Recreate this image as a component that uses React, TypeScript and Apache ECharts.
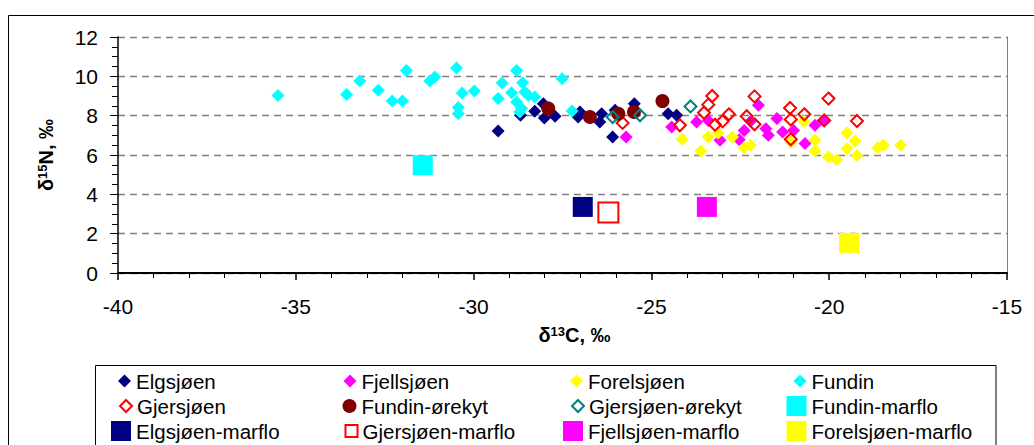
import React, { useEffect, useRef } from "react";
import * as echarts from "echarts";

// ---- data (δ13C, δ15N) ----
const elgsjoen: number[][] = [
  [-29.31, 7.22], [-28.68, 8.02], [-28.28, 8.22], [-28.04, 8.61], [-28.01, 7.88],
  [-27.71, 7.97], [-27.06, 7.93], [-27.01, 8.19], [-26.4, 8.1], [-26.45, 7.68],
  [-26.09, 6.92], [-26.02, 8.27], [-25.48, 8.61], [-24.53, 8.1], [-24.29, 8.02],
];
const fjellsjoen: number[][] = [
  [-25.71, 6.91], [-24.43, 7.42], [-23.73, 7.68], [-23.4, 7.75], [-23.07, 6.75],
  [-22.53, 6.78], [-22.39, 7.25], [-22.21, 7.71], [-21.99, 8.53], [-21.78, 7.34],
  [-21.71, 7.0], [-21.47, 7.85], [-21.31, 7.17], [-21.0, 7.25], [-20.68, 6.58],
  [-20.4, 7.51], [-20.16, 7.76],
];
const forelsjoen: number[][] = [
  [-24.13, 6.8], [-23.61, 6.2], [-23.4, 6.91], [-23.12, 7.12], [-22.72, 6.91],
  [-22.39, 6.37], [-22.21, 6.49], [-21.08, 6.66], [-20.71, 7.71], [-20.4, 6.75],
  [-20.4, 6.2], [-20.02, 5.9], [-19.79, 5.76], [-19.5, 7.12], [-19.27, 6.71],
  [-19.5, 6.32], [-19.22, 5.98], [-18.63, 6.37], [-18.48, 6.49], [-17.99, 6.49],
];
const fundin: number[][] = [
  [-35.5, 9.03], [-33.57, 9.07], [-33.2, 9.76], [-32.68, 9.29], [-32.29, 8.74],
  [-32.0, 8.74], [-31.89, 10.3], [-31.23, 9.76], [-31.09, 9.97], [-30.48, 10.42],
  [-30.43, 8.41], [-30.43, 8.1], [-30.32, 9.15], [-29.98, 9.25], [-29.31, 8.87],
  [-29.2, 9.66], [-28.93, 9.17], [-28.79, 10.3], [-28.62, 9.68], [-28.79, 8.69],
  [-28.56, 9.2], [-28.65, 8.36], [-28.46, 9.03], [-28.28, 8.95], [-28.7, 8.19],
  [-27.9, 8.44], [-27.51, 9.88], [-27.23, 8.24],
];
const gjersjoen: number[][] = [
  [-25.81, 7.63], [-24.2, 7.51], [-23.29, 9.0], [-23.4, 8.56], [-23.52, 8.15],
  [-23.21, 7.54], [-23.0, 7.71], [-22.82, 8.07], [-22.32, 7.97], [-22.1, 8.98],
  [-22.1, 7.56], [-21.1, 8.39], [-21.08, 7.81], [-21.08, 6.8], [-20.7, 8.07],
  [-20.14, 7.76], [-20.02, 8.87], [-19.22, 7.73],
];
const fundinOrekyt: number[][] = [
  [-27.9, 8.36], [-26.73, 7.93], [-25.93, 8.1], [-25.49, 8.19], [-24.69, 8.74],
];
const gjersjoenOrekyt: number[][] = [[-26.09, 7.93], [-25.32, 8.02], [-23.9, 8.47]];
const fundinMarflo: number[][] = [[-31.43, 5.48]];
const elgsjoenMarflo: number[][] = [[-26.93, 3.36]];
const gjersjoenMarflo: number[][] = [[-26.21, 3.07]];
const fjellsjoenMarflo: number[][] = [[-23.44, 3.36]];
const forelsjoenMarflo: number[][] = [[-19.44, 1.53]];

const xTicks = { min: -40, max: -15, interval: 5 };
const yTicks = { min: 0, max: 12, interval: 2 };

const FONT = "'Liberation Sans', Arial, sans-serif";

type Spec = {
  name: string;
  data: number[][];
  symbol: string;
  size: number;
  legendSize: number;
  fill: string;
  stroke?: string;
};

const specs: Spec[] = [
  { name: "Elgsjøen", data: elgsjoen, symbol: "diamond", size: 13, legendSize: 13, fill: "#000080" },
  { name: "Fjellsjøen", data: fjellsjoen, symbol: "diamond", size: 13, legendSize: 13, fill: "#FF00FF" },
  { name: "Forelsjøen", data: forelsjoen, symbol: "diamond", size: 13, legendSize: 13, fill: "#FFFF00" },
  { name: "Fundin", data: fundin, symbol: "diamond", size: 13, legendSize: 13, fill: "#00FFFF" },
  { name: "Gjersjøen", data: gjersjoen, symbol: "diamond", size: 12, legendSize: 12, fill: "rgba(0,0,0,0)", stroke: "#FF0000" },
  { name: "Fundin-ørekyt", data: fundinOrekyt, symbol: "circle", size: 14, legendSize: 14, fill: "#800000" },
  { name: "Gjersjøen-ørekyt", data: gjersjoenOrekyt, symbol: "diamond", size: 12, legendSize: 12, fill: "rgba(0,0,0,0)", stroke: "#008080" },
  { name: "Fundin-marflo", data: fundinMarflo, symbol: "rect", size: 20, legendSize: 20, fill: "#00FFFF" },
  { name: "Elgsjøen-marflo", data: elgsjoenMarflo, symbol: "rect", size: 20, legendSize: 20, fill: "#000080" },
  { name: "Gjersjøen-marflo", data: gjersjoenMarflo, symbol: "rect", size: 20, legendSize: 12, fill: "rgba(0,0,0,0)", stroke: "#FF0000" },
  { name: "Fjellsjøen-marflo", data: fjellsjoenMarflo, symbol: "rect", size: 20, legendSize: 20, fill: "#FF00FF" },
  { name: "Forelsjøen-marflo", data: forelsjoenMarflo, symbol: "rect", size: 20, legendSize: 20, fill: "#FFFF00" },
];

const legendTextX = [136, 361.5, 588, 811.5];
const legendRowY = [381, 406, 431];

export default function App() {
  const ref = useRef<HTMLDivElement>(null);
  useEffect(() => {
    if (!ref.current) return;
    const chart = echarts.init(ref.current, undefined, { renderer: "svg" });

    const series = specs.map((s) => ({
      type: "scatter",
      name: s.name,
      data: s.data,
      symbol: s.symbol,
      symbolSize: s.size,
      xAxisIndex: 0,
      yAxisIndex: 0,
      itemStyle: s.stroke
        ? { color: s.fill, borderColor: s.stroke, borderWidth: 2, opacity: 1 }
        : { color: s.fill, opacity: 1 },
      emphasis: { disabled: true },
    }));

    const legends = specs.map((s, i) => {
      const col = i % 4;
      const row = Math.floor(i / 4);
      const w = s.legendSize;
      return {
        show: true,
        left: legendTextX[col] - 5 - w,
        top: legendRowY[row] - 11,
        padding: 0,
        itemGap: 0,
        itemWidth: w,
        itemHeight: w,
        selectedMode: false,
        data: [s.name],
        textStyle: { fontSize: 20.5, fontFamily: FONT, color: "#000", lineHeight: 22 },
      };
    });

    const titleRich = {
      g: { fontSize: 20, fontWeight: "bold", fontFamily: FONT, color: "#000" },
      s: { fontSize: 13, fontWeight: "bold", fontFamily: FONT, color: "#000", verticalAlign: "top" },
    };

    chart.setOption({
      animation: false,
      backgroundColor: "#fff",
      textStyle: { fontFamily: FONT },
      grid: { left: 118, top: 37, right: 27, bottom: 172, containLabel: false },
      xAxis: {
        type: "value",
        min: xTicks.min,
        max: xTicks.max,
        interval: xTicks.interval,
        name: "{g|δ}{s|13}{g|C, ‰}",
        nameLocation: "middle",
        nameGap: 52,
        nameTextStyle: { rich: titleRich, padding: [0, 0, 0, 24] },
        axisLine: { show: true, onZero: false, lineStyle: { color: "#000", width: 2 } },
        axisTick: { show: true, length: 7, lineStyle: { color: "#000", width: 1.5 } },
        minorTick: { show: true, splitNumber: 5, length: 5, lineStyle: { color: "#000", width: 1 } },
        axisLabel: { fontSize: 21, color: "#000", margin: 23, fontFamily: FONT },
        splitLine: { show: false },
      },
      yAxis: [
        {
          type: "value",
          min: yTicks.min,
          max: yTicks.max,
          interval: yTicks.interval,
          name: "{g|δ}{s|15}{g|N, ‰}",
          nameLocation: "middle",
          nameRotate: 90,
          nameGap: 62,
          nameTextStyle: { rich: titleRich },
          axisLine: { show: true, onZero: false, lineStyle: { color: "#000", width: 1.5 } },
          axisTick: { show: true, length: 8, lineStyle: { color: "#000", width: 1 } },
          minorTick: { show: true, splitNumber: 4, length: 6, lineStyle: { color: "#000", width: 1 } },
          axisLabel: { fontSize: 21, color: "#000", margin: 20, fontFamily: FONT },
          splitLine: { show: true, lineStyle: { color: "#808080", width: 1.3, type: [7, 5] } },
        },
        {
          type: "value",
          min: yTicks.min,
          max: yTicks.max,
          interval: yTicks.interval,
          position: "right",
          axisLine: { show: true, onZero: false, lineStyle: { color: "#808080", width: 1 } },
          axisTick: { show: false },
          axisLabel: { show: false },
          splitLine: { show: false },
        },
      ],
      legend: legends,
      graphic: [
        {
          type: "rect",
          silent: true,
          z: -10,
          shape: { x: 8.5, y: 15.5, width: 1200, height: 600 },
          style: { fill: "none", stroke: "#000", lineWidth: 1 },
        },
        {
          type: "rect",
          silent: true,
          z: -10,
          shape: { x: 95.5, y: 365.5, width: 900.5, height: 200 },
          style: { fill: "none", stroke: "#000", lineWidth: 1 },
        },
      ],
      series,
    });
    return () => chart.dispose();
  }, []);
  return (
    <div
      ref={ref}
      style={{ position: "fixed", left: 0, top: 0, width: 1034, height: 445 }}
    />
  );
}
